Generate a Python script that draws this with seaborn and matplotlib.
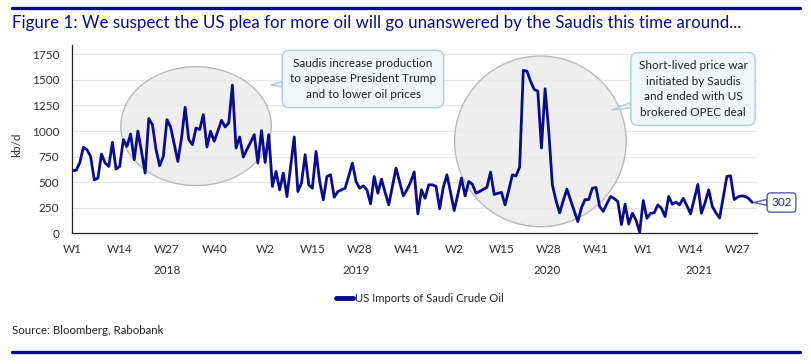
import numpy as np
import pandas as pd
import matplotlib.pyplot as plt
import matplotlib.transforms as mtransforms
import seaborn as sns
from matplotlib.patches import Ellipse

# Weekly US imports of Saudi crude oil, kb/d
years = [2018, 2019, 2020, 2021]
tick_weeks = {2018: [1, 14, 27, 40], 2019: [2, 15, 28, 41],
              2020: [2, 15, 28, 41], 2021: [1, 14, 27]}

imports_2018 = [615, 615, 687, 840, 818, 752, 523, 540, 775, 687, 654, 890, 628,
                654, 916, 850, 971, 720, 1000, 800, 589, 1122, 1063, 818, 661, 752,
                1112, 1040, 870, 703, 930, 1233, 916, 867, 1030, 1014, 1161, 844, 998,
                900, 1000, 1105, 1040, 1080, 1449, 834, 942, 746, 820, 890, 965, 687]
imports_2019 = [1004, 693, 965, 458, 605, 425, 589, 360, 650, 942, 409, 491, 769,
                474, 441, 801, 507, 327, 556, 572, 353, 409, 425, 441, 560, 687,
                507, 441, 464, 425, 288, 556, 392, 530, 400, 278, 460, 638, 500,
                366, 425, 500, 600, 190, 425, 343, 474, 474, 460, 240, 450, 572]
imports_2020 = [400, 222, 380, 540, 366, 507, 480, 392, 410, 430, 450, 599, 380,
                392, 400, 278, 420, 572, 560, 648, 1593, 1586, 1488, 1407, 1390, 834,
                1413, 1000, 474, 320, 200, 320, 432, 327, 220, 114, 250, 330, 330,
                441, 448, 262, 215, 290, 360, 340, 311, 85, 285, 90, 196, 130, 12]
imports_2021 = [320, 147, 196, 200, 278, 245, 164, 360, 285, 305, 278, 343, 270,
                190, 330, 478, 196, 300, 425, 262, 200, 150, 350, 556, 563, 330,
                355, 366, 362, 340, 302]

NAVY = "#0b0b8e"

series = [imports_2018, imports_2019, imports_2020, imports_2021]
rows = []
for yr, vals in zip(years, series):
    for wk, v in enumerate(vals, start=1):
        rows.append({"year": yr, "week": wk, "kbd": v})
df = pd.DataFrame(rows)
df["idx"] = np.arange(len(df))
df["series"] = "US Imports of Saudi Crude Oil"

sns.set_theme(style="white")
plt.rcParams["font.family"] = ["Lato", "DejaVu Sans"]

fig = plt.figure(figsize=(8.12, 3.64), dpi=100)
ax = fig.add_axes([0.0883, 0.359, 0.8436, 0.517])

sns.lineplot(data=df, x="idx", y="kbd", hue="series", palette=[NAVY],
             linewidth=2.0, ax=ax, zorder=4, legend=False)

ax.set_xlim(-0.2, len(df) + 0.2)
ax.set_ylim(0, 1840)
ax.set_yticks(np.arange(0, 1751, 250))
ax.grid(axis="y", color="#e6e6e6", linewidth=0.8, zorder=0)
ax.set_axisbelow(True)

# week ticks
tick_pos, tick_lab = [], []
for yr in years:
    for wk in tick_weeks[yr]:
        tick_pos.append(df.loc[(df.year == yr) & (df.week == wk), "idx"].iloc[0])
        tick_lab.append(f"W{wk}")
ax.set_xticks(tick_pos)
ax.set_xticklabels(tick_lab)
ax.tick_params(axis="both", labelsize=8.5, colors="#333333", length=3,
               width=0.8, direction="out")
ax.tick_params(axis="x", pad=5)
ax.tick_params(axis="y", pad=6)
for s in ["top", "right"]:
    ax.spines[s].set_visible(False)
for s in ["left", "bottom"]:
    ax.spines[s].set_color("#222222")
    ax.spines[s].set_linewidth(0.9)
ax.set_xlabel("")
ax.set_ylabel("kb/d", fontsize=8.5, color="#333333")
ax.yaxis.set_label_coords(-0.072, 0.47)

# year labels under the week ticks
trans = mtransforms.blended_transform_factory(ax.transData, fig.transFigure)
for yr in years:
    sub = df[df.year == yr]["idx"]
    ax.text((sub.min() + sub.max() + 1) / 2, 1 - 270 / 364, str(yr),
            transform=trans, ha="center", va="center", fontsize=8.5,
            color="#333333")

# highlight ellipses
ax.add_patch(Ellipse((34, 1048), 41.4, 1162, facecolor="#e9e9e9", alpha=0.75,
                     edgecolor="#a6a6a6", linewidth=1.0, zorder=2))
ax.add_patch(Ellipse((128.7, 899), 47.2, 1669, facecolor="#e9e9e9", alpha=0.75,
                     edgecolor="#a6a6a6", linewidth=1.0, zorder=2))

box_kw = dict(boxstyle="round,pad=0.65,rounding_size=0.6", fc="#f0f6f9",
              ec="#b3ccd9", lw=1.0)
arrow_kw = dict(arrowstyle="wedge,tail_width=0.45,shrink_factor=0.5",
                fc="#f0f6f9", ec="#b3ccd9", lw=1.0, shrinkA=0, shrinkB=0)
ax.annotate("Saudis increase production\nto appease President Trump\nand to lower oil prices",
            xy=(271, 364 - 85), xycoords="figure pixels",
            xytext=(363, 364 - 79), textcoords="figure pixels",
            ha="center", va="center", fontsize=8.5, color="#222222",
            linespacing=1.5, bbox=box_kw, arrowprops=arrow_kw, zorder=6)
ax.annotate("Short-lived price war\ninitiated by Saudis\nand ended with US\nbrokered OPEC deal",
            xy=(612, 364 - 110), xycoords="figure pixels",
            xytext=(693, 364 - 89), textcoords="figure pixels",
            ha="center", va="center", fontsize=8.5, color="#222222",
            linespacing=1.5, bbox=box_kw, arrowprops=arrow_kw, zorder=6)

last = df.iloc[-1]
ax.annotate(f"{last.kbd:.0f}", xy=(last.idx, last.kbd), xycoords="data",
            xytext=(781.5, 364 - 202.5), textcoords="figure pixels",
            ha="center", va="center", fontsize=8.5, color="#2b2b8c",
            bbox=dict(boxstyle="round,pad=0.35,rounding_size=0.3", fc="white",
                      ec="#5b5ba8", lw=1.0),
            arrowprops=dict(arrowstyle="wedge,tail_width=0.5,shrink_factor=0.5",
                            fc="white", ec="#5b5ba8", lw=1.0, shrinkA=0, shrinkB=1),
            annotation_clip=False, zorder=6)

# legend
handle = plt.Line2D([], [], color=NAVY, linewidth=3.5)
fig.legend([handle], ["US Imports of Saudi Crude Oil"], loc="center",
           bbox_to_anchor=(420 / 812, 1 - 298 / 364), frameon=False, fontsize=8.1,
           handlelength=1.5, handletextpad=0.2)

# title, source and rules
fig.text(0.0148, 1 - 23 / 364,
         "Figure 1: We suspect the US plea for more oil will go unanswered by the Saudis this time around...",
         ha="left", va="center", fontsize=12.2, color=NAVY)
fig.text(0.0148, 1 - 330 / 364, "Source: Bloomberg, Rabobank", ha="left",
         va="center", fontsize=8.3, color="#222222")
for yy in [1 - 8 / 364, 1 - 352 / 364]:
    fig.add_artist(plt.Line2D([12 / 812, 800 / 812], [yy, yy], color=NAVY,
                              linewidth=2.4, transform=fig.transFigure))

fig.savefig("out.png", dpi=100)
